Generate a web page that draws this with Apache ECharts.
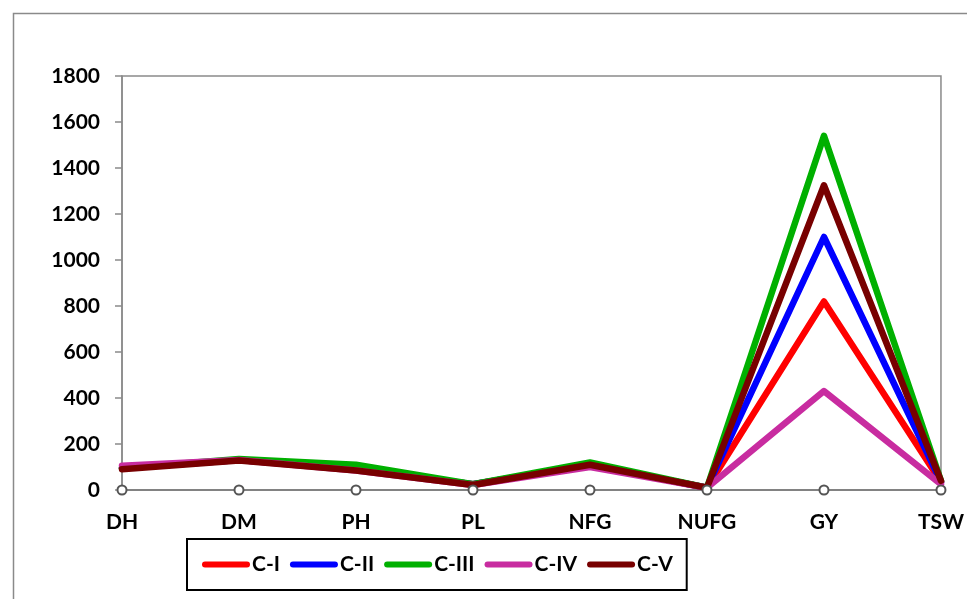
<!DOCTYPE html>
<html>
<head>
<meta charset="utf-8">
<script src="https://cdn.jsdelivr.net/npm/echarts@6/dist/echarts.min.js"></script>
<style>
html,body{margin:0;padding:0;background:#fff;}
#chart{width:967px;height:599px;}
</style>
</head>
<body>
<div id="chart"></div>
<script>
var categories = ['DH', 'DM', 'PH', 'PL', 'NFG', 'NUFG', 'GY', 'TSW'];
var seriesNames = ['C-I', 'C-II', 'C-III', 'C-IV', 'C-V'];
var cI   = [95, 130, 90, 25, 110, 10, 820, 35];
var cII  = [95, 130, 90, 25, 110, 10, 1100, 35];
var cIII = [95, 135, 110, 25, 120, 10, 1540, 40];
var cIV  = [105, 130, 85, 22, 100, 10, 430, 25];
var cV   = [90, 128, 85, 22, 110, 10, 1325, 40];
var baseline = [0, 0, 0, 0, 0, 0, 0, 0];
var colors = ['#ff0000', '#0000ff', '#00b000', '#c82ca0', '#780000'];
var allData = [cI, cII, cIII, cIV, cV];

var font = 'Lato, "Open Sans", sans-serif';
var chart = echarts.init(document.getElementById('chart'));
var series = seriesNames.map(function (n, i) {
  return {
    name: n, type: 'line', data: allData[i],
    symbol: 'none', lineStyle: { width: 6.5, color: colors[i], cap: 'round', join: 'round' },
    itemStyle: { color: colors[i] }, z: 2 + i
  };
});
series.push({
  name: 'base', type: 'line', data: baseline, symbol: 'emptyCircle', symbolSize: 9,
  showSymbol: true, showAllSymbol: true,
  lineStyle: { width: 0, opacity: 0 }, itemStyle: { color: '#555', borderColor: '#555', borderWidth: 1.5 },
  z: 10, silent: true
});
var pill = 'path://M3,0 L45,0 A3,3 0 0 1 45,6 L3,6 A3,3 0 0 1 3,0 Z';
chart.setOption({
  animation: false,
  graphic: [{
    type: 'rect', left: 11, top: 11, shape: { width: 1000, height: 700 },
    style: { fill: 'none', stroke: '#8a8a8a', lineWidth: 1.5 }, silent: true
  }],
  grid: { left: 122, right: 25, top: 76, bottom: 109, show: true, borderColor: '#8a8a8a', borderWidth: 1.5 },
  legend: {
    data: seriesNames.map(function (n) { return { name: n, icon: pill }; }),
    left: 187, top: 539, itemWidth: 48, itemHeight: 7, itemGap: 10,
    padding: [15, 14, 15, 15], borderColor: '#000', borderWidth: 2,
    textStyle: { fontFamily: font, fontWeight: 'bold', fontSize: 21, color: '#000', padding: [0, 0, 0, -3] }
  },
  xAxis: {
    type: 'category', data: categories, boundaryGap: false,
    axisLine: { lineStyle: { color: '#777', width: 1.5 } },
    axisTick: { show: false },
    axisLabel: { fontFamily: font, fontWeight: 'bold', fontSize: 21, color: '#000', margin: 22 }
  },
  yAxis: {
    type: 'value', min: 0, max: 1800, interval: 200,
    axisLine: { show: true, lineStyle: { color: '#8a8a8a', width: 1.5 } },
    axisTick: { show: true, length: 7, lineStyle: { color: '#8a8a8a', width: 1.5 } },
    splitLine: { show: false },
    axisLabel: { fontFamily: font, fontWeight: 'bold', fontSize: 21, color: '#000', margin: 22,
      formatter: function (v) { return String(v); } }
  },
  series: series
});
</script>
</body>
</html>
